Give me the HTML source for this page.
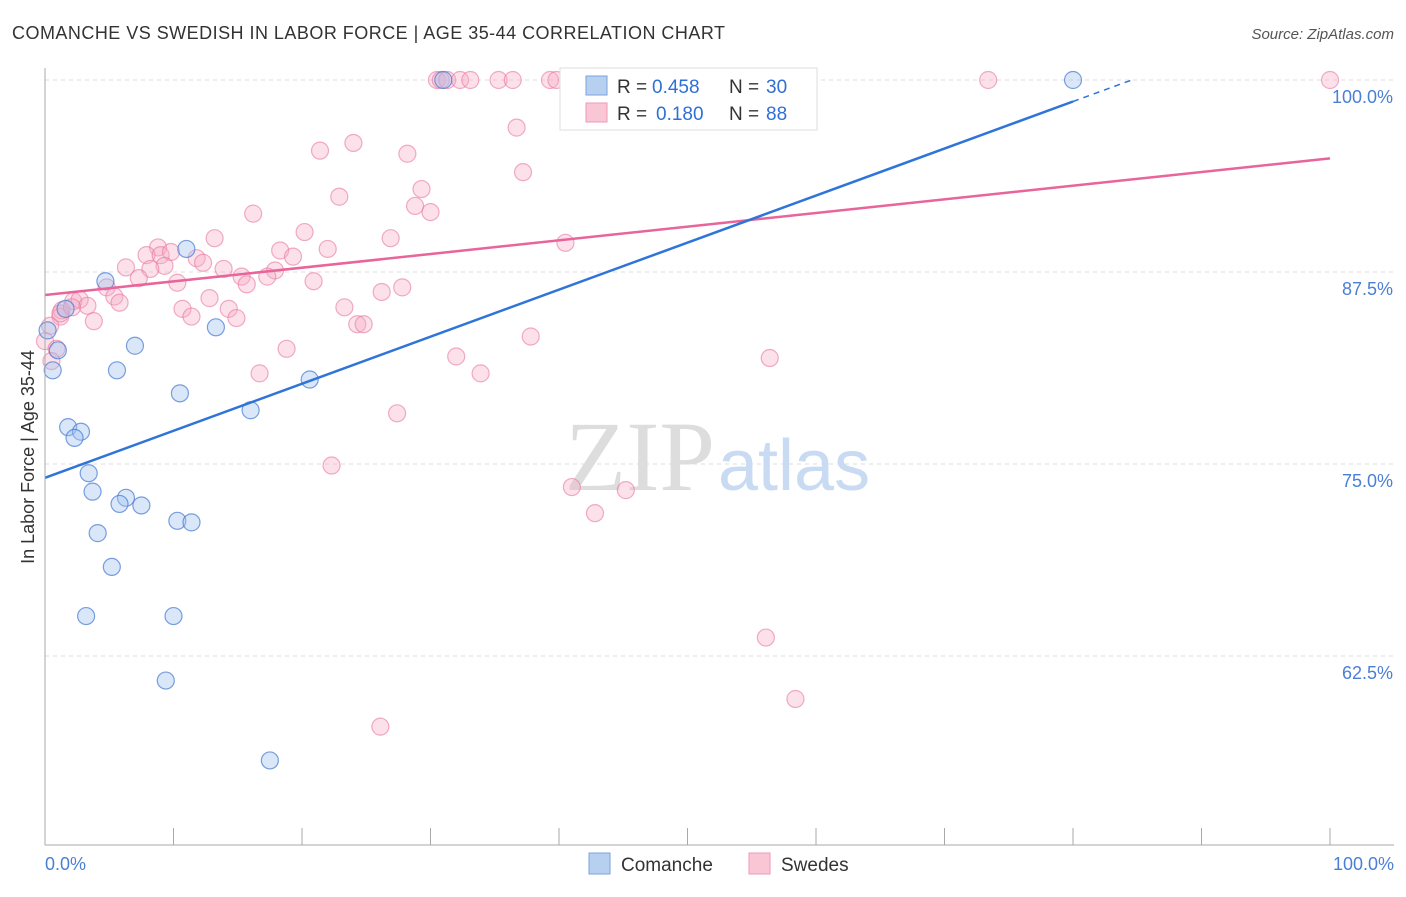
<!DOCTYPE html>
<html><head><meta charset="utf-8"><style>
body{margin:0;background:#fff;font-family:"Liberation Sans",sans-serif}
</style></head><body>
<svg id="chart" width="1406" height="892" xmlns="http://www.w3.org/2000/svg">
<text x="12" y="39" font-size="18" fill="#333" textLength="713">COMANCHE VS SWEDISH IN LABOR FORCE | AGE 35-44 CORRELATION CHART</text>
<text x="1394" y="39" font-size="15" fill="#555" font-style="italic" text-anchor="end">Source: ZipAtlas.com</text>
<text x="34" y="457" font-size="18" fill="#333" text-anchor="middle" transform="rotate(-90 34 457)">In Labor Force | Age 35-44</text>
<g id="grid"></g>
<text x="715" y="490" font-size="100" fill="#ddd" font-family="Liberation Serif,serif" text-anchor="end">ZIP</text>
<text x="718" y="490" font-size="72" fill="#c9dbf2">atlas</text>
<g id="marks"></g>
<line x1="45" y1="68" x2="45" y2="845" stroke="#aaa"/>
<line x1="45" y1="845" x2="1394" y2="845" stroke="#aaa"/>
<text x="45" y="870" font-size="18" fill="#4a7fd6">0.0%</text>
<text x="1394" y="870" font-size="18" fill="#4a7fd6" text-anchor="end">100.0%</text>
<g>
<rect x="560" y="68" width="257" height="62" fill="#fff" stroke="#ddd"/>
<rect x="586" y="76" width="21" height="19" fill="#b8d0f0" stroke="#7aa3e0"/>
<rect x="586" y="103" width="21" height="19" fill="#f9c6d5" stroke="#ef9ab5"/>
<text x="617" y="93" font-size="19" fill="#333">R =</text>
<text x="652" y="93" font-size="19" fill="#2f6fd6">0.458</text>
<text x="729" y="93" font-size="19" fill="#333">N =</text>
<text x="766" y="93" font-size="19" fill="#2f6fd6">30</text>
<text x="617" y="120" font-size="19" fill="#333">R =</text>
<text x="656" y="120" font-size="19" fill="#2f6fd6">0.180</text>
<text x="729" y="120" font-size="19" fill="#333">N =</text>
<text x="766" y="120" font-size="19" fill="#2f6fd6">88</text>
</g>
<g>
<rect x="589" y="853" width="21" height="21" fill="#b8d0f0" stroke="#7aa3e0"/>
<text x="621" y="871" font-size="19" fill="#333">Comanche</text>
<rect x="749" y="853" width="21" height="21" fill="#f9c6d5" stroke="#ef9ab5"/>
<text x="781" y="871" font-size="19" fill="#333">Swedes</text>
</g>
</svg>
<script>
const yTicks=[100,87.5,75,62.5];
const yTickLabels=["100.0%","87.5%","75.0%","62.5%"];
const blueX=[80,31,11,4.7,1.6,0.2,1,0.6,7,5.6,13.3,10.5,16,20.6,1.8,2.8,2.3,3.4,3.7,6.3,5.8,7.5,4.1,10.3,11.4,5.2,3.2,10,9.4,17.5];
const blueY=[100,100,89,86.9,85.1,83.7,82.4,81.1,82.7,81.1,83.9,79.6,78.5,80.5,77.4,77.1,76.7,74.4,73.2,72.8,72.4,72.3,70.5,71.3,71.2,68.3,65.1,65.1,60.9,55.7];
const pinkX=[30.5,30.8,31.3,32.3,33.1,35.3,36.4,39.3,39.8,41.9,42.4,47.9,48.3,73.4,100,
36.7,24,21.4,28.2,37.2,29.3,22.9,28.8,30,16.2,20.2,13.2,26.9,40.5,22,18.3,8.8,7.9,9,19.3,11.8,12.3,9.8,9.3,8.2,6.3,13.9,17.9,17.3,7.3,10.3,15.3,15.7,20.9,27.8,26.2,4.8,5.4,12.8,5.8,2.2,2.7,3.3,1.3,1.2,10.7,14.3,11.4,23.3,24.3,24.8,14.9,3.8,37.8,18.8,32,56.4,16.7,33.9,27.4,22.3,41,45.2,42.8,56.1,58.4,26.1,0.4,0,0.9,1.2,2.1,0.5];
const pinkY=[100,100,100,100,100,100,100,100,100,100,100,100,100,100,100,
96.9,95.9,95.4,95.2,94,92.9,92.4,91.8,91.4,91.3,90.1,89.7,89.7,89.4,89,88.9,89.1,88.6,88.6,88.5,88.4,88.1,88.8,87.9,87.7,87.8,87.7,87.6,87.2,87.1,86.8,87.2,86.7,86.9,86.5,86.2,86.5,85.9,85.8,85.5,85.6,85.7,85.3,85,84.6,85.1,85.1,84.6,85.2,84.1,84.1,84.5,84.3,83.3,82.5,82,81.9,80.9,80.9,78.3,74.9,73.5,73.3,71.8,63.7,59.7,57.9,84,83,82.5,84.8,85.2,81.7];
const blueTrend=[0,74.1,80,98.6], pinkTrend=[0,86,100,94.9];
const X=v=>45+v*12.85, Y=v=>80+(100-v)*15.36;
const NS="http://www.w3.org/2000/svg";
const grid=document.getElementById('grid'), marks=document.getElementById('marks');
function mk(tag,attrs,parent){const e=document.createElementNS(NS,tag);for(const k in attrs)e.setAttribute(k,attrs[k]);parent.appendChild(e);return e;}
yTicks.forEach((t,i)=>{
 const l=mk('line',{x1:45,x2:1394,y1:Y(t),y2:Y(t),stroke:'#ddd','stroke-dasharray':'4,4'},grid);
 
 
 const tx=mk('text',{x:1393,y:Y(t)+23,'font-size':18,fill:'#4a7fd6','text-anchor':'end'},grid);
 tx.textContent=yTickLabels[i];
 
 
});
for(let i=1;i<=10;i++){const l=mk('line',{x1:45+i*128.5,x2:45+i*128.5,y1:828,y2:845,stroke:'#aaa'},grid);
 
 }
pinkX.forEach((x,i)=>{const c=mk('circle',{cx:X(x),cy:Y(pinkY[i]),r:8.5,fill:'rgba(246,170,196,0.35)',stroke:'rgba(232,120,160,0.6)','stroke-width':1.2},marks);
 
 });
blueX.forEach((x,i)=>{const c=mk('circle',{cx:X(x),cy:Y(blueY[i]),r:8.5,fill:'rgba(160,195,240,0.4)',stroke:'rgba(70,120,210,0.7)','stroke-width':1.2},marks);
 
 });
const pl=mk('line',{x1:X(pinkTrend[0]),y1:Y(pinkTrend[1]),x2:X(pinkTrend[2]),y2:Y(pinkTrend[3]),stroke:'#e8649a','stroke-width':2.5},marks);


const bl=mk('line',{x1:X(blueTrend[0]),y1:Y(blueTrend[1]),x2:X(blueTrend[2]),y2:Y(blueTrend[3]),stroke:'#2f74d8','stroke-width':2.5},marks);


const slope=(blueTrend[3]-blueTrend[1])/(blueTrend[2]-blueTrend[0]);
const bd=mk('line',{x1:X(blueTrend[2]),y1:Y(blueTrend[3]),x2:X(84.5),y2:Y(blueTrend[1]+slope*84.5),stroke:'#2f74d8','stroke-width':1.5,'stroke-dasharray':'6,5'},marks);


</script>
</body></html>
